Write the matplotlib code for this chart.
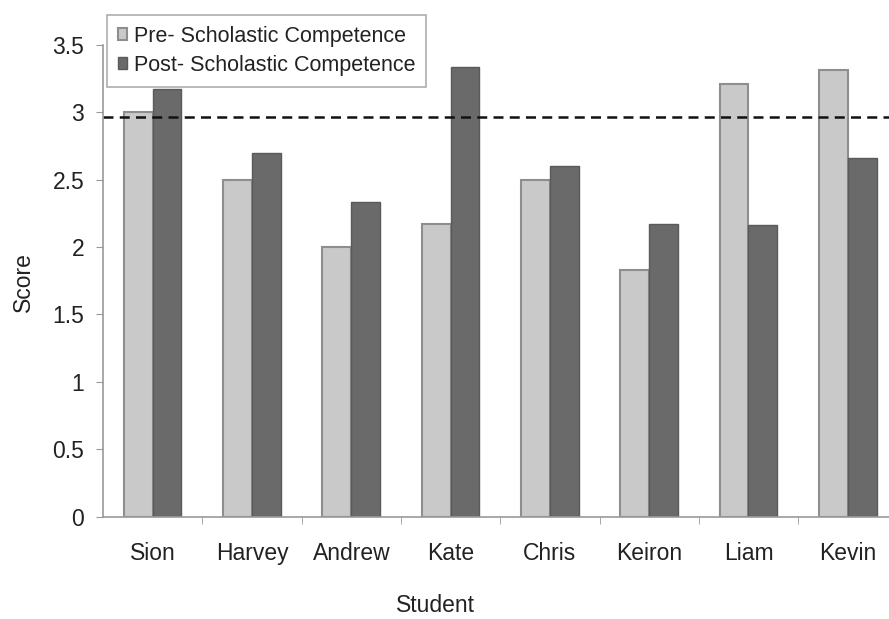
import matplotlib.pyplot as plt
import numpy as np

plt.rcParams['font.family'] = ['Liberation Sans', 'DejaVu Sans']

students = ["Sion", "Harvey", "Andrew", "Kate", "Chris", "Keiron", "Liam", "Kevin"]
pre_scores = [3.0, 2.5, 2.0, 2.17, 2.5, 1.83, 3.21, 3.31]
post_scores = [3.17, 2.7, 2.33, 3.33, 2.6, 2.17, 2.16, 2.66]
threshold = 2.96

fig = plt.figure(figsize=(8.89, 6.19), dpi=100)
# axes reaches past the right edge like in the original (it is cropped there)
ax = fig.add_axes([0.1159, 0.1648, 0.8936, 0.7633])

x = np.arange(len(students))
w = 0.29
ax.bar(x - w / 2, pre_scores, w, color='#c9c9c9', edgecolor='#8e8e8e', linewidth=1.5,
       label='Pre- Scholastic Competence')
ax.bar(x + w / 2, post_scores, w, color='#6a6a6a', edgecolor='#5a5a5a', linewidth=1.0,
       label='Post- Scholastic Competence')

ax.axhline(threshold, color='#111111', linestyle=(0, (4, 2.5)), linewidth=1.8)

ax.set_xlim(-0.5, len(students) - 0.5)
ax.set_ylim(0, 3.5)
ax.set_yticks(np.arange(0, 3.51, 0.5))
ax.set_yticklabels(["0", "0.5", "1", "1.5", "2", "2.5", "3", "3.5"])
ax.set_xticks(x)
ax.set_xticklabels(students)
ax.set_xticks(np.arange(0.5, len(students) - 0.5, 1), minor=True)
ax.tick_params(axis='x', which='major', length=0, pad=18, labelsize=16.5, labelcolor='#222222')
ax.tick_params(axis='x', which='minor', length=5, color='#999999', direction='out')
ax.tick_params(axis='y', length=5, color='#999999', labelsize=16.5, labelcolor='#222222', pad=8.5)

for s in ['top', 'right']:
    ax.spines[s].set_visible(False)
for s in ['left', 'bottom']:
    ax.spines[s].set_color('#999999')
    ax.spines[s].set_linewidth(1.2)

fig.text(23 / 889, 1 - 282 / 619, "Score", rotation=90, fontsize=16.5, color='#222222',
         ha='center', va='center')
fig.text(435 / 889, 1 - 606 / 619, "Student", fontsize=16.5, color='#222222',
         ha='center', va='center')

leg = ax.legend(loc='upper left', bbox_to_anchor=(107 / 889, 1 - 15 / 619),
                bbox_transform=fig.transFigure, fontsize=15.5, frameon=True,
                fancybox=False, handlelength=0.45, handleheight=0.45, handletextpad=0.3,
                borderpad=0.5, borderaxespad=0, labelspacing=0.38)
leg.get_frame().set_edgecolor('#999999')
leg.get_frame().set_linewidth(1.2)
for t in leg.get_texts():
    t.set_color('#222222')

plt.savefig("out.png", dpi=100)
